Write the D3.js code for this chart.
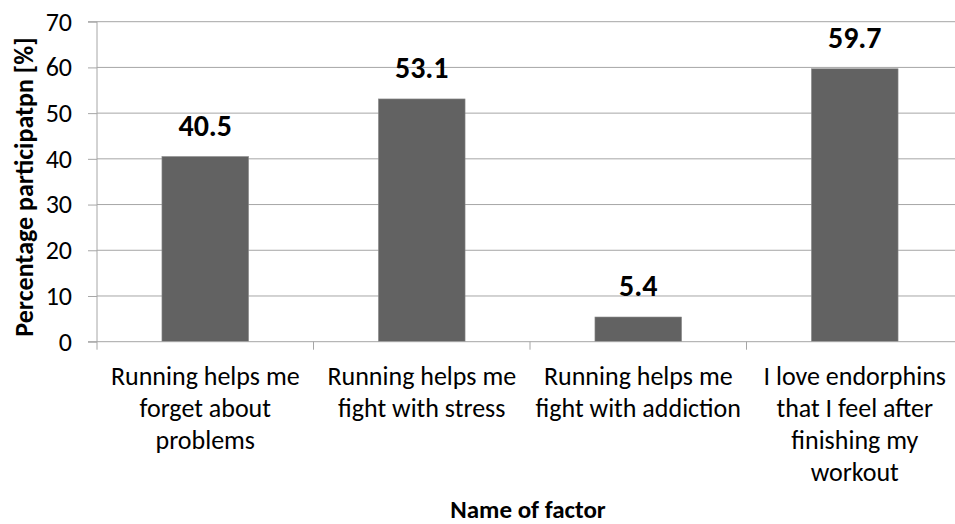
<!DOCTYPE html>
<html><head><meta charset="utf-8">
<script src="https://cdn.jsdelivr.net/npm/d3@7"></script>
<style>
body{margin:0;background:#fff;}
svg{display:block;font-family:Carlito,Calibri,Lato,sans-serif;}
</style></head>
<body><svg id="c" width="955" height="524"></svg>
<script>
const categories = [
  ["Running helps me","forget about","problems"],
  ["Running helps me","fight with stress"],
  ["Running helps me","fight with addiction"],
  ["I love endorphins","that I feel after","finishing my","workout"]
];
const values = [40.5, 53.1, 5.4, 59.7];
const yTicks = [0,10,20,30,40,50,60,70];
const yTitle = "Percentage participatpn [%]";
const xTitle = "Name of factor";

const svg = d3.select("#c");
const L = 97, R = 963, T = 21.7, B = 341.7;
const x = d3.scaleBand().domain(d3.range(values.length)).range([L, R]).paddingInner(0.6).paddingOuter(0.3);
const y = d3.scaleLinear().domain([0,70]).range([B, T]);

// gridlines
svg.append("g").selectAll("line").data(yTicks.filter(d=>d>0)).join("line")
  .attr("x1", L).attr("x2", R).attr("y1", d=>y(d)).attr("y2", d=>y(d))
  .attr("stroke", "#a6a6a6").attr("stroke-width", 1);

// y axis
const ya = svg.append("g").attr("transform", `translate(${L},0)`)
  .call(d3.axisLeft(y).tickValues(yTicks).tickSize(9).tickPadding(16));
ya.select(".domain").attr("stroke", "#a6a6a6").attr("d", `M-9,${B}H0V${T}H-9`);
ya.selectAll(".tick line").attr("stroke", "#a6a6a6");
ya.selectAll(".tick text").attr("font-size", 26).attr("fill", "#000").attr("font-family", "Carlito,Calibri,Lato,sans-serif");

// bars
svg.append("g").selectAll("rect").data(values).join("rect")
  .attr("x", (d,i)=>x(i)).attr("width", x.bandwidth())
  .attr("y", d=>y(d)).attr("height", d=>B - y(d))
  .attr("fill", "#626262").attr("stroke", "#8a8a8a").attr("stroke-width", 0.6);

// x axis
svg.append("line").attr("x1", L).attr("x2", R).attr("y1", B).attr("y2", B).attr("stroke", "#a6a6a6");
const bounds = d3.range(values.length+1).map(i => L + i*x.step());
svg.append("g").selectAll("line").data(bounds).join("line")
  .attr("x1", d=>d).attr("x2", d=>d).attr("y1", B).attr("y2", B+8).attr("stroke", "#a6a6a6");

// value labels
svg.append("g").selectAll("text").data(values).join("text")
  .attr("x", (d,i)=>x(i)+x.bandwidth()/2).attr("y", d=>y(d)-21)
  .attr("text-anchor", "middle").attr("font-weight", "bold").attr("font-size", 30)
  .text(d=>d.toFixed(1));

// category labels
const cl = svg.append("g").selectAll("text").data(categories).join("text")
  .attr("text-anchor", "middle").attr("font-size", 26)
  .attr("transform", (d,i)=>`translate(${x(i)+x.bandwidth()/2},385)`);
cl.selectAll("tspan").data(d=>d).join("tspan")
  .attr("x", 0).attr("y", (d,j)=>j*32).text(d=>d);

// titles
svg.append("text").attr("transform", "translate(33,187) rotate(-90)")
  .attr("text-anchor", "middle").attr("font-weight", "bold").attr("font-size", 26).text(yTitle);
svg.append("text").attr("x", 528).attr("y", 518)
  .attr("text-anchor", "middle").attr("font-weight", "bold").attr("font-size", 25).text(xTitle);
</script></body></html>
